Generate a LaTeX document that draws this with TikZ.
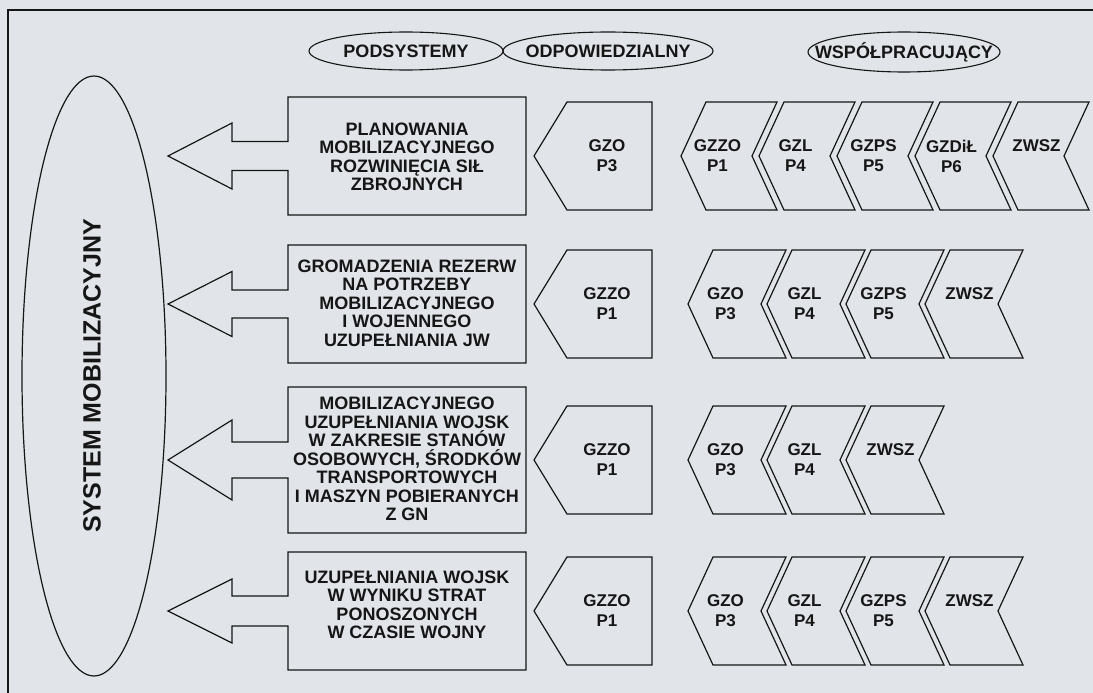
\documentclass[tikz,border=0pt]{standalone}
\usepackage{fontspec}
\setmainfont{Liberation Sans}
\usetikzlibrary{shapes.geometric}
\definecolor{paper}{RGB}{225,228,232}
\definecolor{ink}{RGB}{22,22,22}

% box of a subsystem with its arrow pointing left
% #1 top, #2 bottom, #3 half shaft, #4 half head
\newcommand\subsysbox[4]{%
  \pgfmathsetmacro\rowcy{(#1+#2)/2}%
  \draw[outline] (288,#1) -- (526,#1) -- (526,#2) -- (288,#2)
    -- (288,\rowcy+#3) -- (232,\rowcy+#3) -- (232,\rowcy+#4) -- (168,\rowcy)
    -- (232,\rowcy-#4) -- (232,\rowcy-#3) -- (288,\rowcy-#3) -- cycle;}
% pentagon of the responsible unit: #1 name, #2 top, #3 bottom, #4 text
\newcommand\respunit[4]{%
  \pgfmathsetmacro\rowcy{(#2+#3)/2}%
  \draw[outline] (534,\rowcy) -- (567,#2) -- (652,#2) -- (652,#3) -- (567,#3) -- cycle;
  \node[code] (#1) at (607,\rowcy) {#4};}
% chevron outline: #1 left x, #2 width, #3 top, #4 bottom
\newcommand\chevron[4]{%
  \pgfmathsetmacro\rowcy{(#3+#4)/2}%
  \draw[outline] (#1,\rowcy) -- (#1+25,#3) -- (#1+25+#2,#3) -- (#1+#2,\rowcy)
    -- (#1+25+#2,#4) -- (#1+25,#4) -- cycle;}
% chevron of a cooperating unit with a two-line code
% #1 name, #2 left x, #3 width, #4 top, #5 bottom, #6 text
\newcommand\coopunit[6]{%
  \chevron{#2}{#3}{#4}{#5}%
  \node[code] (#1) at (#2+1+#3/2,\rowcy) {#6};}
% chevron whose single code sits on the upper line
\newcommand\coopone[6]{%
  \chevron{#2}{#3}{#4}{#5}%
  \node[code] (#1) at (#2+8+#3/2,\rowcy-10) {#6};}

\begin{document}
\begin{tikzpicture}[x=1pt,y=-1pt,line join=miter,
  outline/.style={draw=ink,line width=1.2pt},
  frameline/.style={draw=ink,line width=2.4pt},
  lbl/.style={font=\bfseries\fontsize{18}{18.5}\selectfont,text=ink,align=center,inner sep=0pt},
  code/.style={font=\bfseries\fontsize{17}{20}\selectfont,text=ink,align=center,inner sep=0pt},
  oval/.style={ellipse,draw=ink,line width=1.1pt,inner sep=0pt},
  headtext/.style={font=\bfseries\fontsize{18}{20}\selectfont,text=ink,inner sep=0pt}]
\fill[paper] (0,0) rectangle (1093,693);
\useasboundingbox (0,0) rectangle (1093,693);
\clip (0,0) rectangle (1093,693);

% frame
\draw[frameline] (8,700) -- (8,10) -- (1100,10);

% column headings
\node[oval,minimum width=194pt,minimum height=38pt] (hsub) at (406,51) {};
\node[headtext] (hsubt) at (hsub) {PODSYSTEMY};
\node[oval,minimum width=210pt,minimum height=38pt] (hresp) at (608,51) {};
\node[headtext] (hrespt) at (hresp) {ODPOWIEDZIALNY};
\node[oval,minimum width=192pt,minimum height=40pt] (hcoop) at (904,52) {};
\node[headtext] (hcoopt) at (hcoop) {WSPÓŁPRACUJĄCY};

% the system
\node[oval,line width=1.2pt,minimum width=144pt,minimum height=600pt] (sys) at (94,376) {};
\node[rotate=90,font=\bfseries\fontsize{25}{27}\selectfont,text=ink,inner sep=0pt] (syst) at (92,376) {SYSTEM MOBILIZACYJNY};

% row 1
\subsysbox{97}{215}{14.5}{33}
\node[lbl] (s1) at (407,157) {PLANOWANIA\\MOBILIZACYJNEGO\\ROZWINIĘCIA SIŁ\\ZBROJNYCH};
\respunit{r1}{102}{210}{GZO\\P3}
\coopunit{c11}{681}{71}{102}{210}{GZZO\\P1}
\coopunit{c12}{759}{71}{102}{210}{GZL\\P4}
\coopunit{c13}{837}{71}{102}{210}{GZPS\\P5}
\coopunit{c14}{915}{71}{102}{210}{GZDiŁ\\P6}
\coopone{c15}{993}{71}{102}{210}{ZWSZ}

% row 2
\subsysbox{245}{363}{14}{32.5}
\node[lbl] (s2) at (407,303) {GROMADZENIA REZERW\\NA POTRZEBY\\MOBILIZACYJNEGO\\I WOJENNEGO\\UZUPEŁNIANIA JW};
\respunit{r2}{250}{358}{GZZO\\P1}
\coopunit{c21}{688}{73}{250}{358}{GZO\\P3}
\coopunit{c22}{767}{73}{250}{358}{GZL\\P4}
\coopunit{c23}{846}{73}{250}{358}{GZPS\\P5}
\coopone{c24}{925}{73}{250}{358}{ZWSZ}

% row 3
\subsysbox{387}{533}{18}{40}
\node[lbl] (s3) at (407,459) {MOBILIZACYJNEGO\\UZUPEŁNIANIA WOJSK\\W ZAKRESIE STANÓW\\OSOBOWYCH, ŚRODKÓW\\TRANSPORTOWYCH\\I MASZYN POBIERANYCH\\Z GN};
\respunit{r3}{406}{514}{GZZO\\P1}
\coopunit{c31}{688}{73}{406}{514}{GZO\\P3}
\coopunit{c32}{767}{73}{406}{514}{GZL\\P4}
\coopone{c33}{846}{73}{406}{514}{ZWSZ}

% row 4
\subsysbox{552}{670}{15}{32}
\node[lbl] (s4) at (407,605) {UZUPEŁNIANIA WOJSK\\W WYNIKU STRAT\\PONOSZONYCH\\W CZASIE WOJNY};
\respunit{r4}{557}{665}{GZZO\\P1}
\coopunit{c41}{688}{73}{557}{665}{GZO\\P3}
\coopunit{c42}{767}{73}{557}{665}{GZL\\P4}
\coopunit{c43}{846}{73}{557}{665}{GZPS\\P5}
\coopone{c44}{925}{73}{557}{665}{ZWSZ}
\end{tikzpicture}
\end{document}
